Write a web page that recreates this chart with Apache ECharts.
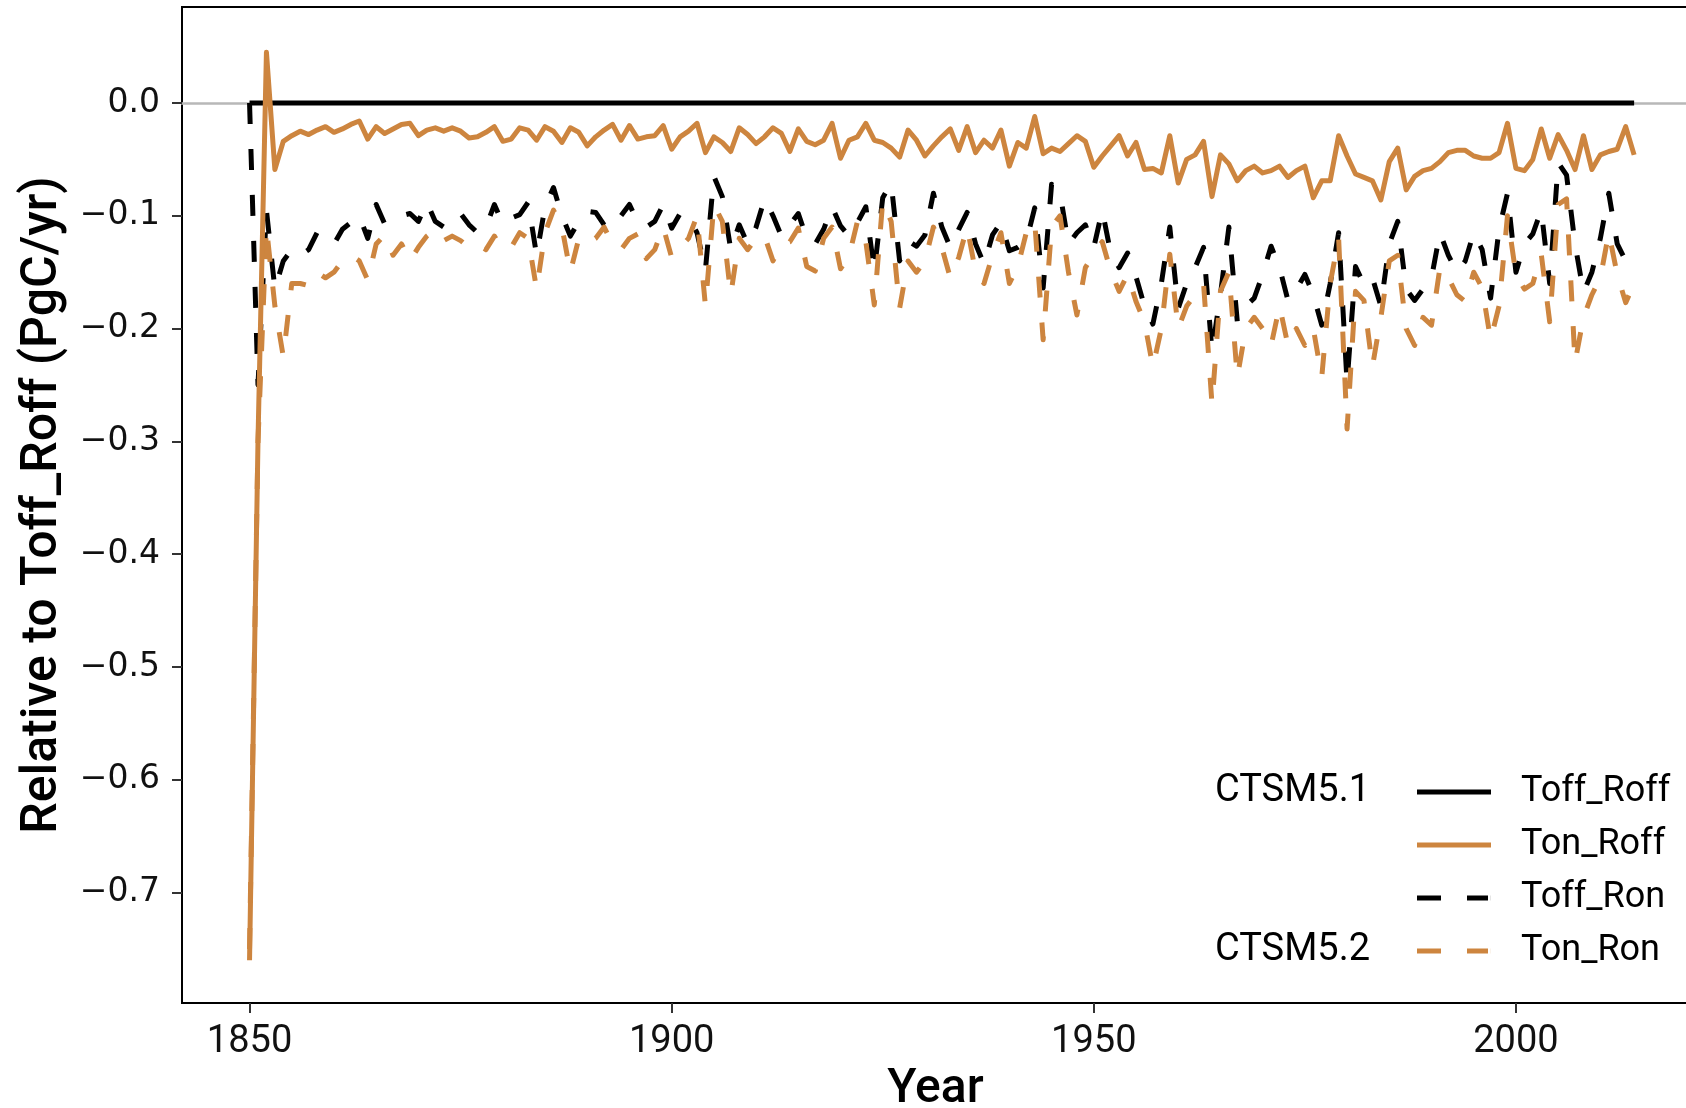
<!DOCTYPE html>
<html><head><meta charset="utf-8">
<script src="https://cdn.jsdelivr.net/npm/echarts@6/dist/echarts.min.js"></script>
<style>html,body{margin:0;padding:0;background:#fff}#c{width:1686px;height:1108px}</style>
</head><body><div id="c"></div>
<script>
// ---- data ----
const startYear = 1850;
const years = [];
for (let y = startYear; y <= 2014; y++) years.push(y);

const seriesNames = ['Toff_Roff', 'Ton_Roff', 'Toff_Ron', 'Ton_Ron'];
const xTicks = [1850, 1900, 1950, 2000];
const yTicks = [-0.7, -0.6, -0.5, -0.4, -0.3, -0.2, -0.1, 0.0];

const toffRoff = [
  0,0,0,0,0,0,0,0,0,0, 0,0,0,0,0,0,0,0,0,0,
  0,0,0,0,0,0,0,0,0,0, 0,0,0,0,0,0,0,0,0,0,
  0,0,0,0,0,0,0,0,0,0, 0,0,0,0,0,0,0,0,0,0,
  0,0,0,0,0,0,0,0,0,0, 0,0,0,0,0,0,0,0,0,0,
  0,0,0,0,0,0,0,0,0,0, 0,0,0,0,0,0,0,0,0,0,
  0,0,0,0,0,0,0,0,0,0, 0,0,0,0,0,0,0,0,0,0,
  0,0,0,0,0,0,0,0,0,0, 0,0,0,0,0,0,0,0,0,0,
  0,0,0,0,0,0,0,0,0,0, 0,0,0,0,0,0,0,0,0,0,
  0,0,0,0,0
];

const tonRoff = [
  -0.760,-0.300, 0.045,-0.059,-0.034,-0.029,-0.025,-0.028,-0.024,-0.021,
  -0.026,-0.023,-0.019,-0.016,-0.032,-0.021,-0.027,-0.023,-0.019,-0.018,
  -0.029,-0.024,-0.022,-0.025,-0.022,-0.025,-0.031,-0.030,-0.026,-0.021,
  -0.034,-0.032,-0.022,-0.024,-0.033,-0.021,-0.025,-0.035,-0.022,-0.026,
  -0.038,-0.030,-0.024,-0.019,-0.033,-0.020,-0.032,-0.030,-0.029,-0.020,
  -0.041,-0.030,-0.025,-0.018,-0.044,-0.030,-0.035,-0.043,-0.022,-0.028,
  -0.036,-0.030,-0.022,-0.027,-0.043,-0.023,-0.034,-0.037,-0.033,-0.018,
  -0.049,-0.033,-0.030,-0.018,-0.033,-0.035,-0.040,-0.048,-0.024,-0.033,
  -0.047,-0.038,-0.030,-0.023,-0.042,-0.021,-0.044,-0.033,-0.040,-0.024,
  -0.056,-0.035,-0.040,-0.012,-0.045,-0.040,-0.043,-0.036,-0.029,-0.034,
  -0.057,-0.047,-0.038,-0.029,-0.047,-0.035,-0.059,-0.058,-0.062,-0.029,
  -0.071,-0.050,-0.046,-0.034,-0.083,-0.046,-0.054,-0.069,-0.060,-0.056,
  -0.062,-0.060,-0.056,-0.066,-0.060,-0.056,-0.084,-0.069,-0.069,-0.029,
  -0.047,-0.063,-0.066,-0.069,-0.086,-0.052,-0.040,-0.077,-0.065,-0.060,
  -0.058,-0.052,-0.044,-0.042,-0.042,-0.047,-0.049,-0.049,-0.044,-0.018,
  -0.058,-0.060,-0.050,-0.023,-0.049,-0.028,-0.042,-0.059,-0.029,-0.059,
  -0.046,-0.043,-0.041,-0.021,-0.046
];

const toffRon = [
   0.000,-0.250,-0.095,-0.165,-0.140,-0.130,-0.135,-0.130,-0.115,-0.120,
  -0.125,-0.112,-0.106,-0.100,-0.120,-0.090,-0.107,-0.105,-0.100,-0.098,
  -0.105,-0.088,-0.105,-0.110,-0.100,-0.098,-0.108,-0.115,-0.110,-0.090,
  -0.107,-0.102,-0.099,-0.088,-0.135,-0.092,-0.075,-0.100,-0.118,-0.105,
  -0.096,-0.097,-0.108,-0.112,-0.100,-0.090,-0.106,-0.110,-0.105,-0.090,
  -0.111,-0.098,-0.101,-0.115,-0.148,-0.065,-0.083,-0.130,-0.108,-0.125,
  -0.110,-0.085,-0.100,-0.118,-0.108,-0.098,-0.120,-0.125,-0.112,-0.092,
  -0.109,-0.118,-0.106,-0.092,-0.149,-0.084,-0.071,-0.140,-0.122,-0.127,
  -0.117,-0.080,-0.110,-0.128,-0.112,-0.097,-0.125,-0.143,-0.117,-0.106,
  -0.131,-0.128,-0.123,-0.093,-0.164,-0.072,-0.080,-0.125,-0.115,-0.108,
  -0.128,-0.095,-0.133,-0.146,-0.133,-0.154,-0.180,-0.196,-0.160,-0.110,
  -0.182,-0.160,-0.146,-0.128,-0.220,-0.170,-0.110,-0.194,-0.180,-0.173,
  -0.152,-0.127,-0.146,-0.175,-0.165,-0.152,-0.170,-0.197,-0.160,-0.115,
  -0.248,-0.145,-0.161,-0.155,-0.180,-0.125,-0.105,-0.165,-0.175,-0.165,
  -0.155,-0.115,-0.135,-0.150,-0.140,-0.115,-0.130,-0.173,-0.112,-0.080,
  -0.150,-0.125,-0.116,-0.095,-0.160,-0.053,-0.064,-0.125,-0.168,-0.150,
  -0.120,-0.080,-0.125,-0.140,-0.140
];

const tonRon = [
  -0.750,-0.300,-0.110,-0.180,-0.225,-0.160,-0.160,-0.162,-0.150,-0.155,
  -0.150,-0.140,-0.135,-0.140,-0.157,-0.125,-0.117,-0.135,-0.125,-0.140,
  -0.128,-0.118,-0.112,-0.122,-0.118,-0.122,-0.128,-0.125,-0.130,-0.118,
  -0.130,-0.128,-0.115,-0.120,-0.165,-0.115,-0.095,-0.110,-0.150,-0.120,
  -0.125,-0.120,-0.110,-0.125,-0.130,-0.120,-0.116,-0.138,-0.130,-0.110,
  -0.137,-0.128,-0.120,-0.100,-0.180,-0.090,-0.105,-0.170,-0.120,-0.130,
  -0.120,-0.118,-0.140,-0.125,-0.123,-0.111,-0.145,-0.149,-0.120,-0.110,
  -0.147,-0.136,-0.105,-0.123,-0.179,-0.087,-0.105,-0.182,-0.140,-0.150,
  -0.140,-0.110,-0.128,-0.155,-0.137,-0.110,-0.150,-0.160,-0.135,-0.115,
  -0.160,-0.145,-0.115,-0.105,-0.210,-0.110,-0.100,-0.150,-0.188,-0.146,
  -0.134,-0.123,-0.149,-0.167,-0.152,-0.176,-0.194,-0.234,-0.200,-0.134,
  -0.200,-0.180,-0.170,-0.160,-0.267,-0.167,-0.150,-0.243,-0.200,-0.190,
  -0.200,-0.215,-0.180,-0.215,-0.200,-0.215,-0.200,-0.243,-0.160,-0.120,
  -0.289,-0.167,-0.175,-0.234,-0.190,-0.140,-0.135,-0.200,-0.215,-0.190,
  -0.197,-0.146,-0.155,-0.170,-0.176,-0.150,-0.164,-0.210,-0.180,-0.100,
  -0.152,-0.165,-0.160,-0.134,-0.194,-0.090,-0.085,-0.230,-0.190,-0.170,
  -0.155,-0.115,-0.152,-0.177,-0.160
];

// ---- chart ----
const BLACK = '#000000', PERU = '#CD853F';
const DASH = [21, 25];
const SOLID_ICON = 'path://M0,0h74v5h-74z';
const DASH_ICON = 'path://M0,0h24v5h-24zM50,0h21v5h-21zM73.9,0h0.1v5h-0.1z';

function mk(name, values, color, dashed, z) {
  return {
    name: name, type: 'line', symbol: 'none', showSymbol: false, z: z,
    data: years.map((y, i) => [y, values[i]]),
    lineStyle: { color: color, width: 5, type: dashed ? DASH : 'solid', cap: 'butt', join: 'round' },
    itemStyle: { color: color },
    emphasis: { disabled: true },
    animation: false
  };
}

const chart = echarts.init(document.getElementById('c'), null, { renderer: 'canvas' });
const fmtY = v => (v < -1e-9 ? '\u2212' : '') + Math.abs(v).toFixed(1);

chart.setOption({
  backgroundColor: '#ffffff',
  animation: false,
  grid: { left: 182, top: 7, right: -3, bottom: 105, containLabel: false, outerBoundsMode: 'none',
          show: true, borderColor: '#000', borderWidth: 2, backgroundColor: 'transparent' },
  xAxis: [{
    type: 'value', min: 1842, max: 2020.5,
    name: 'Year', nameLocation: 'middle', nameGap: 63,
    nameTextStyle: { fontFamily: 'Roboto', fontSize: 48, fontWeight: 500, color: '#000' },
    axisLine: { onZero: false, lineStyle: { color: '#000', width: 2 } },
    axisTick: { customValues: xTicks, length: 10, lineStyle: { color: '#333', width: 2 } },
    axisLabel: { customValues: xTicks, margin: 20, fontFamily: 'Roboto', fontSize: 38, color: '#111', formatter: v => String(v) },
    splitLine: { show: false }
  }, {
    type: 'value', min: 1842, max: 2020.5, position: 'top',
    axisLine: { onZero: true, lineStyle: { color: '#b8b8b8', width: 2.5 } },
    axisTick: { show: false }, axisLabel: { show: false }, splitLine: { show: false }
  }],
  yAxis: {
    type: 'value', min: -0.7979, max: 0.0851,
    name: 'Relative to Toff_Roff (PgC/yr)', nameLocation: 'middle', nameGap: 109,
    nameTextStyle: { fontFamily: 'Roboto', fontSize: 50, fontWeight: 500, color: '#000' },
    axisLine: { onZero: false, lineStyle: { color: '#000', width: 2 } },
    axisTick: { customValues: yTicks, length: 10, lineStyle: { color: '#333', width: 2 } },
    axisLabel: { customValues: yTicks, margin: 22, fontFamily: 'DejaVu Sans', fontSize: 33, color: '#111', formatter: fmtY },
    splitLine: { show: false }
  },
  legend: {
    orient: 'vertical', left: 1417, top: 770, padding: 0,
    itemWidth: 74, itemHeight: 5, itemGap: 9,
    data: [
      { name: seriesNames[0], icon: SOLID_ICON },
      { name: seriesNames[1], icon: SOLID_ICON },
      { name: seriesNames[2], icon: DASH_ICON },
      { name: seriesNames[3], icon: DASH_ICON }
    ],
    selectedMode: false,
    textStyle: { fontFamily: 'Roboto', fontSize: 36, color: '#000', lineHeight: 44, padding: [0, 0, 0, 25] }
  },
  graphic: [
    { type: 'text', x: 1215, y: 791, style: { text: 'CTSM5.1', font: '38px Roboto', fill: '#000', verticalAlign: 'middle' } },
    { type: 'text', x: 1215, y: 950, style: { text: 'CTSM5.2', font: '38px Roboto', fill: '#000', verticalAlign: 'middle' } }
  ],
  series: [
    mk('Toff_Roff', toffRoff, BLACK, false, 2),
    mk('Toff_Ron', toffRon, BLACK, true, 3),
    mk('Ton_Ron', tonRon, PERU, true, 4),
    mk('Ton_Roff', tonRoff, PERU, false, 5)
  ]
});
</script>
</body></html>
